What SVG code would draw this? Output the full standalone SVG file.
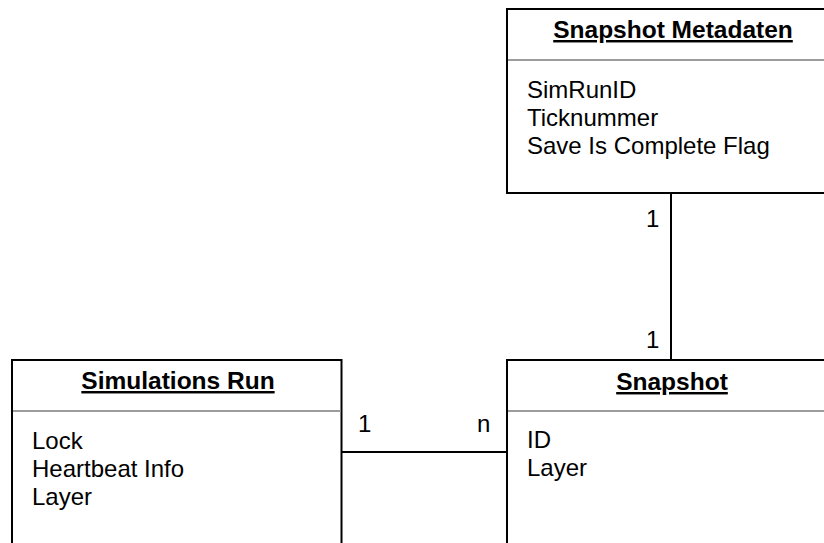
<svg xmlns="http://www.w3.org/2000/svg" width="824" height="543" viewBox="0 0 824 543">
  <style>
    .box { fill: #fff; stroke: #000; stroke-width: 2; }
    .sep { stroke: #9c9c9c; stroke-width: 2; }
    .title { font-family: "Liberation Sans", Arial, sans-serif; font-size: 24.5px; font-weight: bold; text-anchor: middle; text-decoration: underline; fill: #000; }
    .attr { font-family: "Liberation Sans", Arial, sans-serif; font-size: 24px; fill: #000; }
    .card { font-family: "Liberation Sans", Arial, sans-serif; font-size: 24px; fill: #000; }
    .edge { stroke: #000; stroke-width: 2; fill: none; }
  </style>
  <rect width="824" height="543" fill="#fff"/>

  <!-- relations -->
  <g id="connectors">
    <line class="edge" x1="671" y1="193" x2="671" y2="359"/>
    <line class="edge" x1="342" y1="452" x2="506" y2="452"/>
    <text class="card" x="646" y="227">1</text>
    <text class="card" x="646" y="348">1</text>
    <text class="card" x="358" y="432">1</text>
    <text class="card" x="477" y="432">n</text>
  </g>

  <g id="snapshot-metadaten">
    <rect class="box" x="507" y="9" width="340" height="184"/>
    <line class="sep" x1="508" y1="60" x2="846" y2="60"/>
    <text class="title" x="673" y="38">Snapshot Metadaten</text>
    <text class="attr" x="527" y="98">SimRunID</text>
    <text class="attr" x="527" y="126">Ticknummer</text>
    <text class="attr" x="527" y="154">Save Is Complete Flag</text>
  </g>

  <g id="simulations-run">
    <rect class="box" x="12" y="360" width="329.5" height="200"/>
    <line class="sep" x1="13" y1="411" x2="340.5" y2="411"/>
    <text class="title" x="178" y="389">Simulations Run</text>
    <text class="attr" x="32" y="449">Lock</text>
    <text class="attr" x="32" y="477">Heartbeat Info</text>
    <text class="attr" x="32" y="505">Layer</text>
  </g>

  <g id="snapshot">
    <rect class="box" x="507" y="360" width="340" height="200"/>
    <line class="sep" x1="508" y1="411" x2="846" y2="411"/>
    <text class="title" x="672" y="390">Snapshot</text>
    <text class="attr" x="527" y="448">ID</text>
    <text class="attr" x="527" y="476">Layer</text>
  </g>
</svg>
